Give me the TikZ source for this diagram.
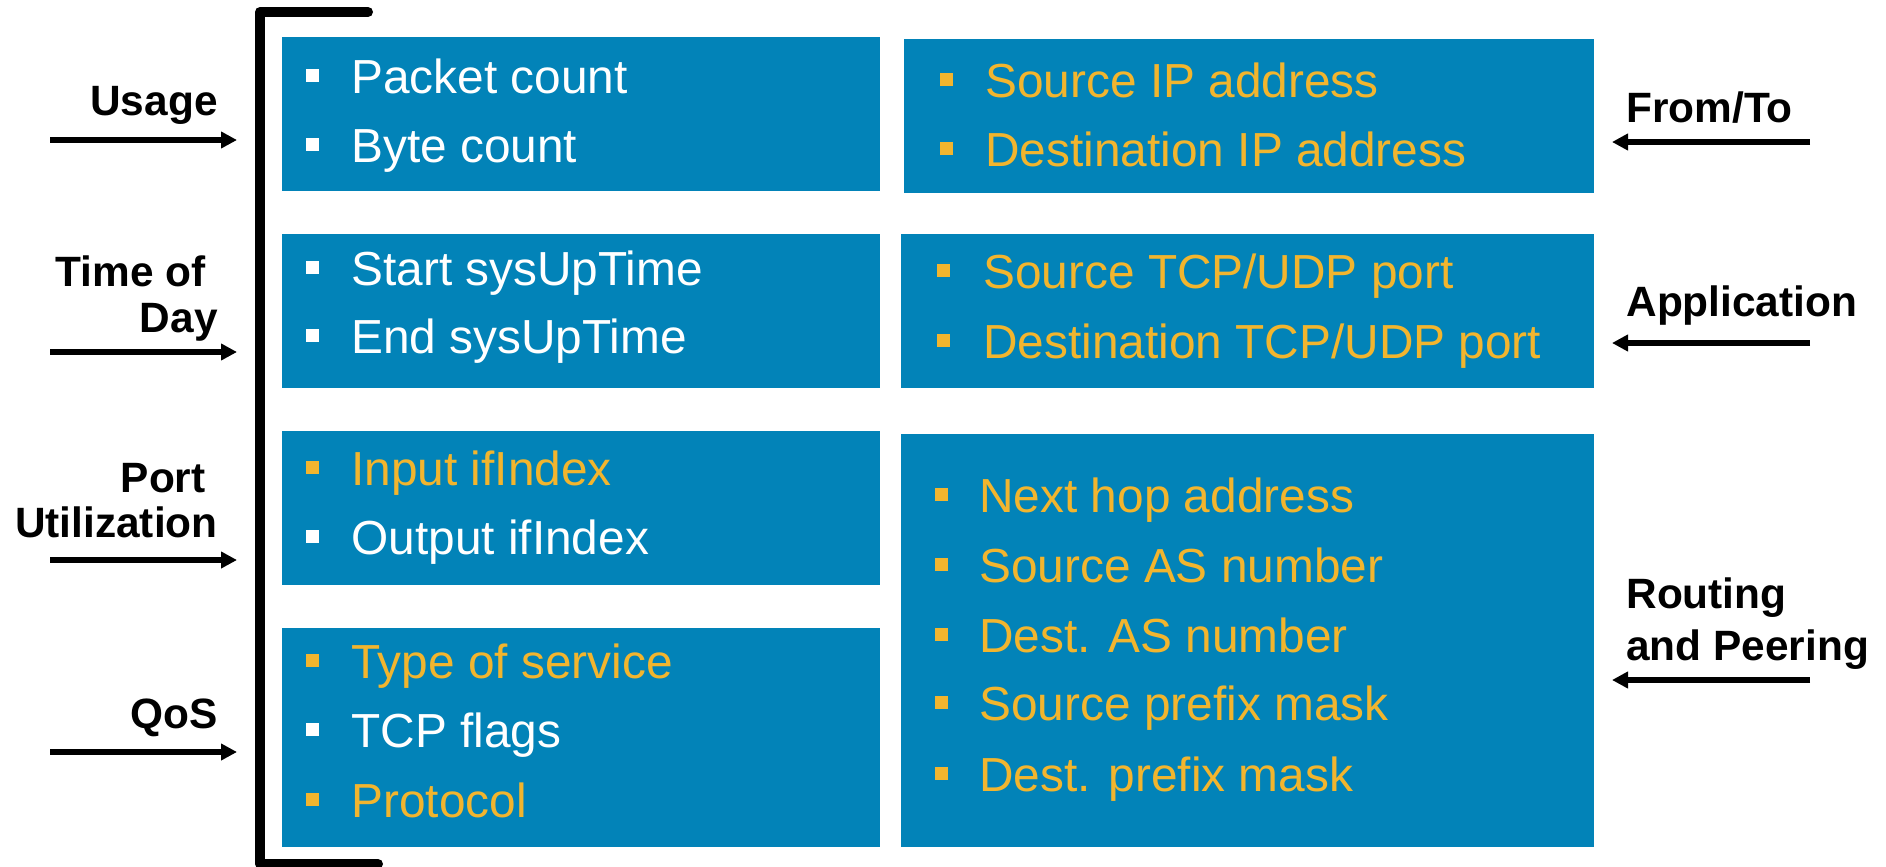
\documentclass[tikz,border=0pt]{standalone}
\usepackage{fontspec}
\setmainfont{Liberation Sans}
\usetikzlibrary{arrows.meta}
\definecolor{panelblue}{RGB}{2,131,184}
\definecolor{hilite}{RGB}{242,181,46}
\tikzset{
  panel/.style={fill=panelblue, draw=none, inner sep=0pt, anchor=north west},
  item/.style={anchor=base west, inner sep=0pt, font=\fontsize{23.9}{28}\selectfont},
  wtext/.style={item, text=white},
  ytext/.style={item, text=hilite},
  sq/.style={rectangle, inner sep=0pt, minimum size=6.5pt, draw=none},
  wsq/.style={sq, fill=white},
  ysq/.style={sq, fill=hilite},
  lbl/.style={inner sep=0pt, font=\bfseries\fontsize{21.2}{24}\selectfont},
  lblR/.style={lbl, anchor=base east},
  lblL/.style={lbl, anchor=base west},
  feed/.style={line width=2.6pt, -{Triangle[length=8pt,width=8pt]}},
  bracket/.style={line width=5pt, line cap=round, line join=round}
}
\begin{document}
\begin{tikzpicture}[x=0.5pt, y=-0.5pt]
\useasboundingbox (0,0) rectangle (1886,867);

% grouping bracket
\coordinate (brTop) at (368,12);
\coordinate (brTL) at (260,12);
\coordinate (brBL) at (260,864);
\coordinate (brBot) at (378,864);
\draw[bracket] (brTop) -- (brTL) -- (brBL) -- (brBot);

% left column panels
\node[panel, minimum width=299pt, minimum height=77pt] (L1) at (282,37) {};
\node[panel, minimum width=299pt, minimum height=77pt] (L2) at (282,234) {};
\node[panel, minimum width=299pt, minimum height=77pt] (L3) at (282,431) {};
\node[panel, minimum width=299pt, minimum height=109.5pt] (L4) at (282,628) {};

% right column panels
\node[panel, minimum width=345pt, minimum height=77pt] (R1) at (904,39) {};
\node[panel, minimum width=346.5pt, minimum height=77pt] (R2) at (901,234) {};
\node[panel, minimum width=346.5pt, minimum height=206.5pt] (R3) at (901,434) {};

% left column items
\node[wsq] (sL1a) at (312,75) {};  \node[wtext] (tL1a) at (351,93) {Packet count};
\node[wsq] (sL1b) at (312,144) {}; \node[wtext] (tL1b) at (351,162) {Byte count};
\node[wsq] (sL2a) at (312,267) {}; \node[wtext] (tL2a) at (351,285) {Start sysUpTime};
\node[wsq] (sL2b) at (312,335) {}; \node[wtext] (tL2b) at (351,353) {End sysUpTime};
\node[ysq] (sL3a) at (312,467) {}; \node[ytext] (tL3a) at (351,485) {Input ifIndex};
\node[wsq] (sL3b) at (312,536) {}; \node[wtext] (tL3b) at (351,554) {Output ifIndex};
\node[ysq] (sL4a) at (312,660) {}; \node[ytext] (tL4a) at (351,678) {Type of service};
\node[wsq] (sL4b) at (312,729) {}; \node[wtext] (tL4b) at (351,747) {TCP flags};
\node[ysq] (sL4c) at (312,799) {}; \node[ytext] (tL4c) at (351,817) {Protocol};

% right column items
\node[ysq] (sR1a) at (946,79) {};  \node[ytext] (tR1a) at (985,97) {Source IP address};
\node[ysq] (sR1b) at (946,148) {}; \node[ytext] (tR1b) at (985,166) {Destination IP address};
\node[ysq] (sR2a) at (943,270) {}; \node[ytext] (tR2a) at (983,288) {Source TCP/UDP port};
\node[ysq] (sR2b) at (943,340) {}; \node[ytext] (tR2b) at (983,358) {Destination TCP/UDP port};
\node[ysq] (sR3a) at (941,494) {}; \node[ytext] (tR3a) at (979,512) {Next hop address};
\node[ysq] (sR3b) at (941,564) {}; \node[ytext] (tR3b) at (979,582) {Source AS number};
\node[ysq] (sR3c) at (941,634) {}; \node[ytext] (tR3c) at (979,652) {Dest. AS number};
\node[ysq] (sR3d) at (941,702) {}; \node[ytext] (tR3d) at (979,720) {Source prefix mask};
\node[ysq] (sR3e) at (941,773) {}; \node[ytext] (tR3e) at (979,791) {Dest. prefix mask};

% left labels
\node[lblR] (usage) at (218,115) {Usage};
\node[lblR] (tod1) at (206,286) {Time of};
\node[lblR] (tod2) at (218,332) {Day};
\node[lblR] (port1) at (206,492) {Port};
\node[lblR] (port2) at (218,537) {Utilization};
\node[lblR] (qos) at (218,728) {QoS};

% right labels
\node[lblL] (fromto) at (1626,122) {From/To};
\node[lblL] (appl) at (1626,316) {Application};
\node[lblL] (rout1) at (1626,608) {Routing};
\node[lblL] (rout2) at (1626,660) {and Peering};

% left feed arrows
\coordinate (aU0) at (50,140);  \coordinate (aU1) at (237,140);
\coordinate (aT0) at (50,352);  \coordinate (aT1) at (237,352);
\coordinate (aP0) at (50,560);  \coordinate (aP1) at (237,560);
\coordinate (aQ0) at (50,752);  \coordinate (aQ1) at (237,752);
\draw[feed] (aU0) -- (aU1);
\draw[feed] (aT0) -- (aT1);
\draw[feed] (aP0) -- (aP1);
\draw[feed] (aQ0) -- (aQ1);

% right feed arrows
\coordinate (aF0) at (1810,142); \coordinate (aF1) at (1612,142);
\coordinate (aA0) at (1810,343); \coordinate (aA1) at (1612,343);
\coordinate (aR0) at (1810,680); \coordinate (aR1) at (1612,680);
\draw[feed] (aF0) -- (aF1);
\draw[feed] (aA0) -- (aA1);
\draw[feed] (aR0) -- (aR1);
\end{tikzpicture}
\end{document}
